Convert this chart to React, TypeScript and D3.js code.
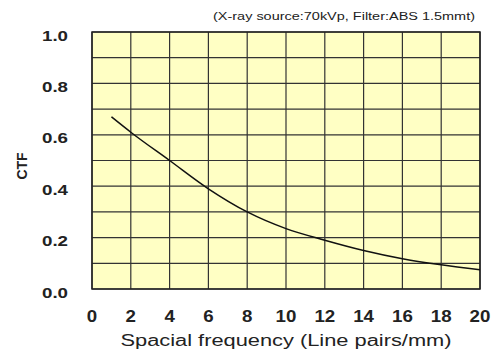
import React from "react";
import * as d3 from "d3";

const freq = [1, 2, 4, 6, 8, 10, 12, 14, 16, 18, 20];
const ctf = [0.67, 0.61, 0.5, 0.39, 0.3, 0.235, 0.19, 0.15, 0.118, 0.094, 0.075];
const xTicks = [0, 2, 4, 6, 8, 10, 12, 14, 16, 18, 20];
const yTicks = [0, 0.2, 0.4, 0.6, 0.8, 1.0];
const yGrid = [0, 0.1, 0.2, 0.3, 0.4, 0.5, 0.6, 0.7, 0.8, 0.9, 1.0];

const W = 499, H = 354;
const L = 92, R = 480, T = 32, B = 289;

export default function App() {
  const x = d3.scaleLinear().domain([0, 20]).range([L, R]);
  const y = d3.scaleLinear().domain([0, 1]).range([B, T]);
  const line = d3.line<number>().x((_, i) => x(freq[i])).y((d) => y(d)).curve(d3.curveMonotoneX);
  const font = "'Liberation Sans', Arial, sans-serif";
  return (
    <svg width={W} height={H} style={{ position: "absolute", left: 0, top: 0, background: "#fff" }}>
      <rect x={L} y={T} width={R - L} height={B - T} fill="#FFFFC4" />
      {yGrid.map((v) => (
        <line key={"h" + v} x1={L} x2={R} y1={y(v)} y2={y(v)} stroke="#333" strokeWidth={1.2} />
      ))}
      {xTicks.map((v) => (
        <line key={"v" + v} x1={x(v)} x2={x(v)} y1={T} y2={B} stroke="#333" strokeWidth={1.2} />
      ))}
      <rect x={L} y={T} width={R - L} height={B - T} fill="none" stroke="#222" strokeWidth={1.5} />
      <path d={line(ctf) || ""} fill="none" stroke="#111" strokeWidth={1.5} />
      {yTicks.map((v) => (
        <text key={"yt" + v} x={68} y={y(v) + 8.5} textAnchor="end" fontFamily={font} fontSize={15} fontWeight="bold" fill="#222" textLength={26} lengthAdjust="spacingAndGlyphs">
          {v.toFixed(1)}
        </text>
      ))}
      {xTicks.map((v) => (
        <text key={"xt" + v} x={x(v)} y={322} textAnchor="middle" fontFamily={font} fontSize={17} fontWeight="bold" fill="#222" textLength={String(v).length * 10.4} lengthAdjust="spacingAndGlyphs">
          {v}
        </text>
      ))}
      <text x={286} y={346} textAnchor="middle" fontFamily={font} fontSize={16} fill="#222" textLength={331} lengthAdjust="spacingAndGlyphs">
        Spacial frequency (Line pairs/mm)
      </text>
      <text transform="translate(27,166) rotate(-90)" textAnchor="middle" fontFamily={font} fontSize={14} fontWeight="bold" fill="#222">
        CTF
      </text>
      <text x={475} y={20} textAnchor="end" fontFamily={font} fontSize={10} fill="#222" textLength={262} lengthAdjust="spacingAndGlyphs">
        (X-ray source:70kVp, Filter:ABS 1.5mmt)
      </text>
    </svg>
  );
}
